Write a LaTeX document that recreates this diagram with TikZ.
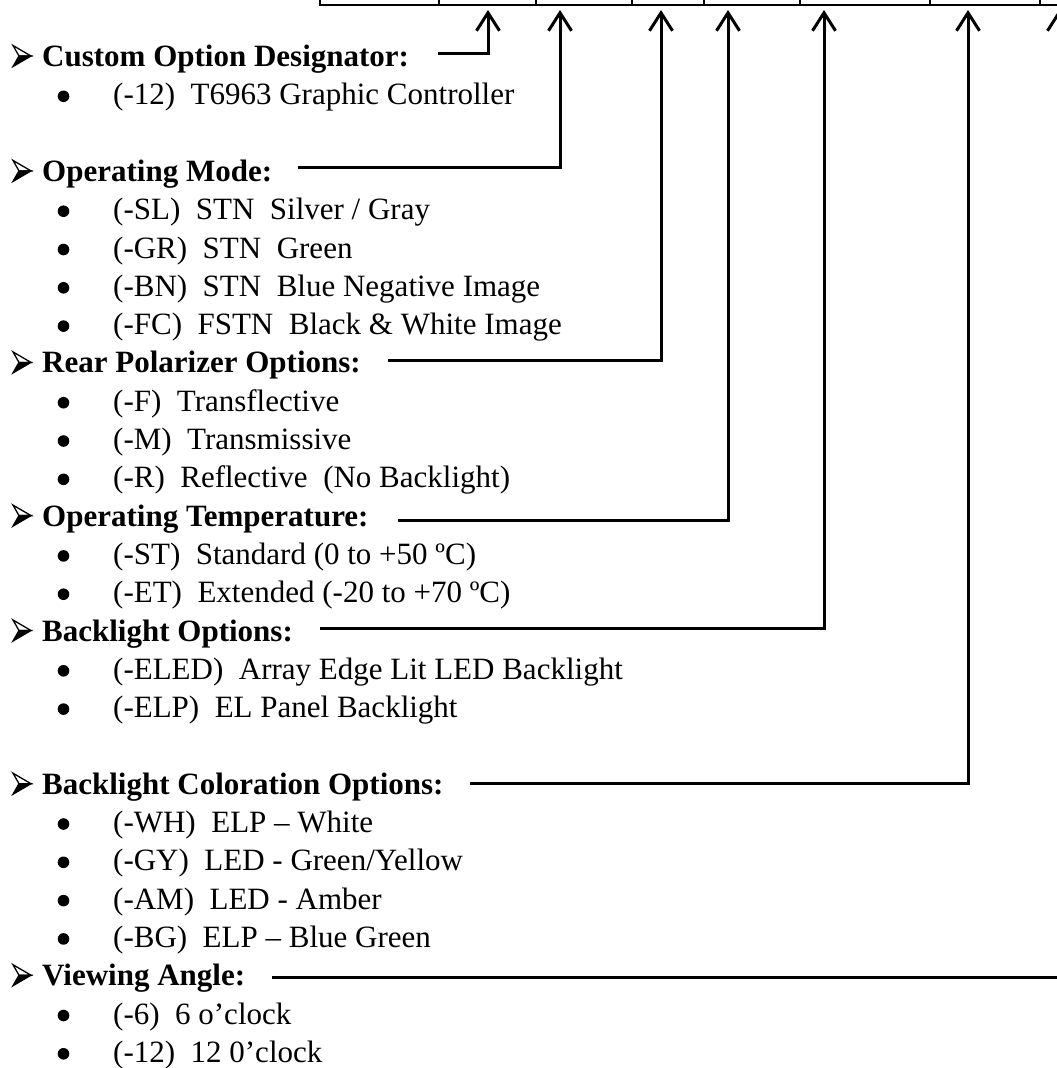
\documentclass[tikz,border=0pt]{standalone}
\usepackage{fontspec}
\setmainfont{Liberation Serif}
\usetikzlibrary{arrows.meta}
\begin{document}
\begin{tikzpicture}[x=1pt,y=-1pt,
  hd/.style={anchor=base west, inner sep=0pt, font=\fontsize{31}{36}\selectfont\bfseries},
  itm/.style={anchor=base west, inner sep=0pt, font=\fontsize{31}{36}\selectfont},
  dot/.style={fill=black},
  mkline/.style={line width=1.3pt, line join=miter},
  conn/.style={line width=3pt, -{Straight Barb[length=18pt, width=23pt]}, line join=miter},
  tbl/.style={line width=1.5pt}]
\useasboundingbox (0,0) rectangle (1057,1068);
\clip (0,0) rectangle (1057,1068);
% table row at the top
\draw[tbl] (320,-5) -- (320,5) -- (1060,5);
\foreach \x in {439,536,632,704,800,930,1040} \draw[tbl] (\x,-5) -- (\x,5);
% heading markers (3-D arrowheads)
\foreach \y in {66.5,181.4,372.9,526.1,641,794.2,985.7} {
  \draw[mkline] (13,\y-21) -- (31,\y-10.5) -- (19,\y-10.5) -- cycle;
  \filldraw[mkline] (19,\y-10.5) -- (31,\y-10.5) -- (13,\y) -- cycle;
}
% headings
\node[hd] (hC) at (42,66.5) {Custom Option Designator:};
\node[hd] (hM) at (42,181.4) {Operating Mode:};
\node[hd] (hR) at (42,372.9) {Rear Polarizer Options:};
\node[hd] (hT) at (42,526.1) {Operating Temperature:};
\node[hd] (hB) at (42,641) {Backlight Options:};
\node[hd] (hK) at (42,794.2) {Backlight Coloration Options:};
\node[hd] (hV) at (42,985.7) {Viewing Angle:};
% item bullets
\foreach \y in {104.8,219.7,258,296.3,334.6,411.2,449.5,487.8,564.4,602.7,679.3,717.6,832.5,870.8,909.1,947.4,1024,1062.3}
  \fill[dot] (63.5,\y-8.5) circle (5.8);
% items
\node[itm] (i1) at (113,104.8) {(-12)~~T6963 Graphic Controller};
\node[itm] (i2) at (113,219.7) {(-SL)~~STN~~Silver / Gray};
\node[itm] (i3) at (113,258) {(-GR)~~STN~~Green};
\node[itm] (i4) at (113,296.3) {(-BN)~~STN~~Blue Negative Image};
\node[itm] (i5) at (113,334.6) {(-FC)~~FSTN~~Black \& White Image};
\node[itm] (i6) at (113,411.2) {(-F)~~Transflective};
\node[itm] (i7) at (113,449.5) {(-M)~~Transmissive};
\node[itm] (i8) at (113,487.8) {(-R)~~Reflective~~(No Backlight)};
\node[itm] (i9) at (113,564.4) {(-ST)~~Standard (0 to +50 ºC)};
\node[itm] (i10) at (113,602.7) {(-ET)~~Extended (-20 to +70 ºC)};
\node[itm] (i11) at (113,679.3) {(-ELED)~~Array Edge Lit LED Backlight};
\node[itm] (i12) at (113,717.6) {(-ELP)~~EL Panel Backlight};
\node[itm] (i13) at (113,832.5) {(-WH)~~ELP – White};
\node[itm] (i14) at (113,870.8) {(-GY)~~LED - Green/Yellow};
\node[itm] (i15) at (113,909.1) {(-AM)~~LED - Amber};
\node[itm] (i16) at (113,947.4) {(-BG)~~ELP – Blue Green};
\node[itm] (i17) at (113,1024) {(-6)~~6 o’clock};
\node[itm] (i18) at (113,1062.3) {(-12)~~12 0’clock};
% connector end points
\coordinate (sC) at (438,53);   \coordinate (tC) at (488,10);
\coordinate (sM) at (298,167);  \coordinate (tM) at (560,10);
\coordinate (sR) at (388,360);  \coordinate (tR) at (661,10);
\coordinate (sT) at (398,520);  \coordinate (tT) at (728,10);
\coordinate (sB) at (320,628);  \coordinate (tB) at (824,10);
\coordinate (sK) at (470,783);  \coordinate (tK) at (968,10);
\coordinate (sV) at (272,977);  \coordinate (tV) at (1059,10);
\foreach \n in {C,M,R,T,B,K,V} \draw[conn] (s\n) -| (t\n);
\end{tikzpicture}
\end{document}
